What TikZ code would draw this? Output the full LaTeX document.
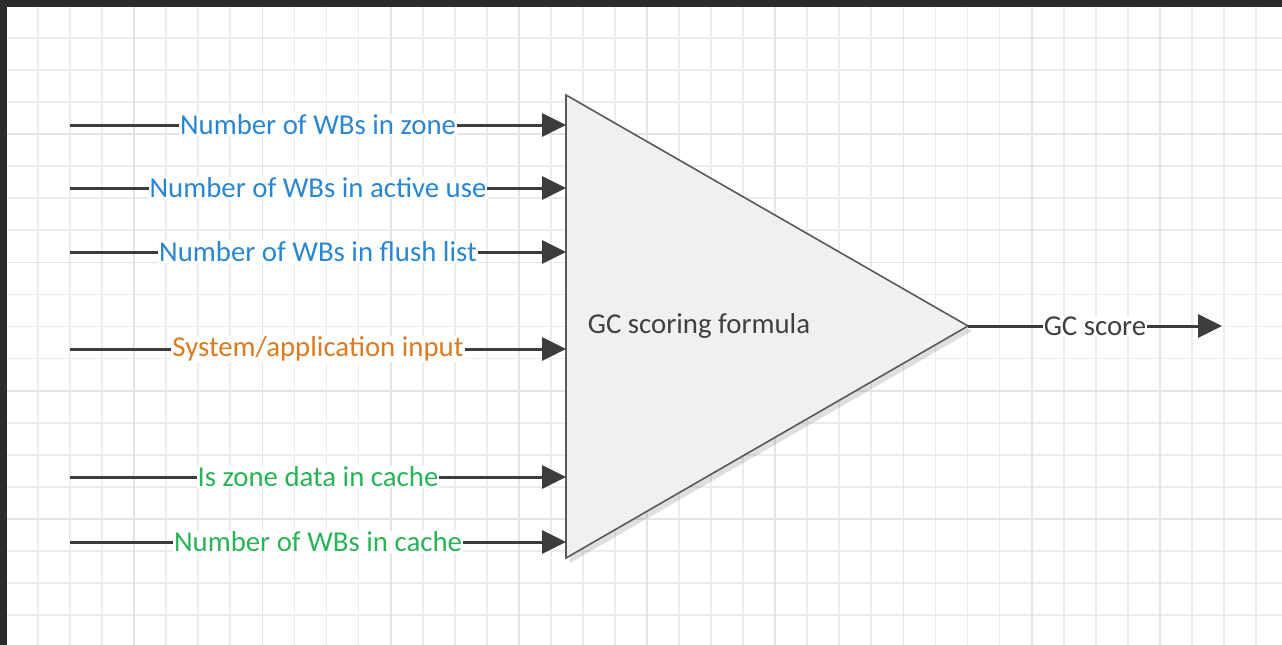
\documentclass[tikz,border=0pt]{standalone}
\usepackage{fontspec}
\setmainfont{Carlito}
\usetikzlibrary{arrows.meta,shadows}
\definecolor{frame}{RGB}{43,43,43}
\definecolor{gridminor}{RGB}{236,236,236}
\definecolor{gridmajor}{RGB}{228,228,228}
\definecolor{wire}{RGB}{60,60,60}
\definecolor{tblue}{RGB}{40,134,210}
\definecolor{torange}{RGB}{222,122,34}
\definecolor{tgreen}{RGB}{40,180,86}
\definecolor{tdark}{RGB}{64,64,64}
\definecolor{trifill}{RGB}{240,240,240}
\begin{document}
\begin{tikzpicture}[x=1pt,y=-1pt,
  wirearrow/.style={draw=wire,line width=3pt,-{Triangle[length=24pt,width=23pt]}},
  lbl/.style={fill=white,inner xsep=1pt,inner ysep=1pt,font=\fontsize{28.8}{34}\selectfont},
  tri/.style={draw=wire!85,line width=1.6pt,fill=trifill,line join=miter,
    drop shadow={shadow xshift=4pt,shadow yshift=-5pt,opacity=0.25,fill=gray}}]
\useasboundingbox (0,0) rectangle (1282,645);
\fill[white] (0,0) rectangle (1282,645);
% grid
\foreach \i in {1,...,39} {
  \pgfmathsetmacro{\xx}{6+32.05*\i}
  \draw[gridminor,line width=1.8pt] (\xx,0) -- (\xx,645);
}
\foreach \i in {1,...,19} {
  \pgfmathsetmacro{\yy}{6+32.05*\i}
  \draw[gridminor,line width=1.8pt] (0,\yy) -- (1282,\yy);
}
\foreach \i in {4,8,...,36} {
  \pgfmathsetmacro{\xx}{6+32.05*\i}
  \draw[gridmajor,line width=1.8pt] (\xx,0) -- (\xx,645);
}
\foreach \i in {4,8,...,16} {
  \pgfmathsetmacro{\yy}{6+32.05*\i}
  \draw[gridmajor,line width=1.8pt] (0,\yy) -- (1282,\yy);
}
% frame
\fill[frame] (0,0) rectangle (1282,7);
\fill[frame] (0,0) rectangle (7,645);
% triangle
\coordinate (tl) at (566,95);
\coordinate (bl) at (566,558);
\coordinate (apex) at (968,326);
\draw[tri] (tl) -- (apex) -- (bl) -- cycle;
\node[font=\fontsize{28.8}{34}\selectfont,text=tdark] (formula) at (699,326) {GC scoring formula};
% inputs
\coordinate (s1) at (70,125);  \coordinate (e1) at (566,125);
\coordinate (s2) at (70,188);  \coordinate (e2) at (566,188);
\coordinate (s3) at (70,252);  \coordinate (e3) at (566,252);
\coordinate (s4) at (70,349);  \coordinate (e4) at (566,349);
\coordinate (s5) at (70,477);  \coordinate (e5) at (566,477);
\coordinate (s6) at (70,542);  \coordinate (e6) at (566,542);
\coordinate (out) at (1222,326);
\draw[wirearrow] (s1) -- node[lbl,text=tblue] (l1) {Number of WBs in zone} (e1);
\draw[wirearrow] (s2) -- node[lbl,text=tblue] (l2) {Number of WBs in active use} (e2);
\draw[wirearrow] (s3) -- node[lbl,text=tblue] (l3) {Number of WBs in flush list} (e3);
\draw[wirearrow] (s4) -- node[lbl,text=torange] (l4) {System/application input} (e4);
\draw[wirearrow] (s5) -- node[lbl,text=tgreen] (l5) {Is zone data in cache} (e5);
\draw[wirearrow] (s6) -- node[lbl,text=tgreen] (l6) {Number of WBs in cache} (e6);
\draw[wirearrow] (apex) -- node[lbl,text=tdark] (l7) {GC score} (out);
\end{tikzpicture}
\end{document}
